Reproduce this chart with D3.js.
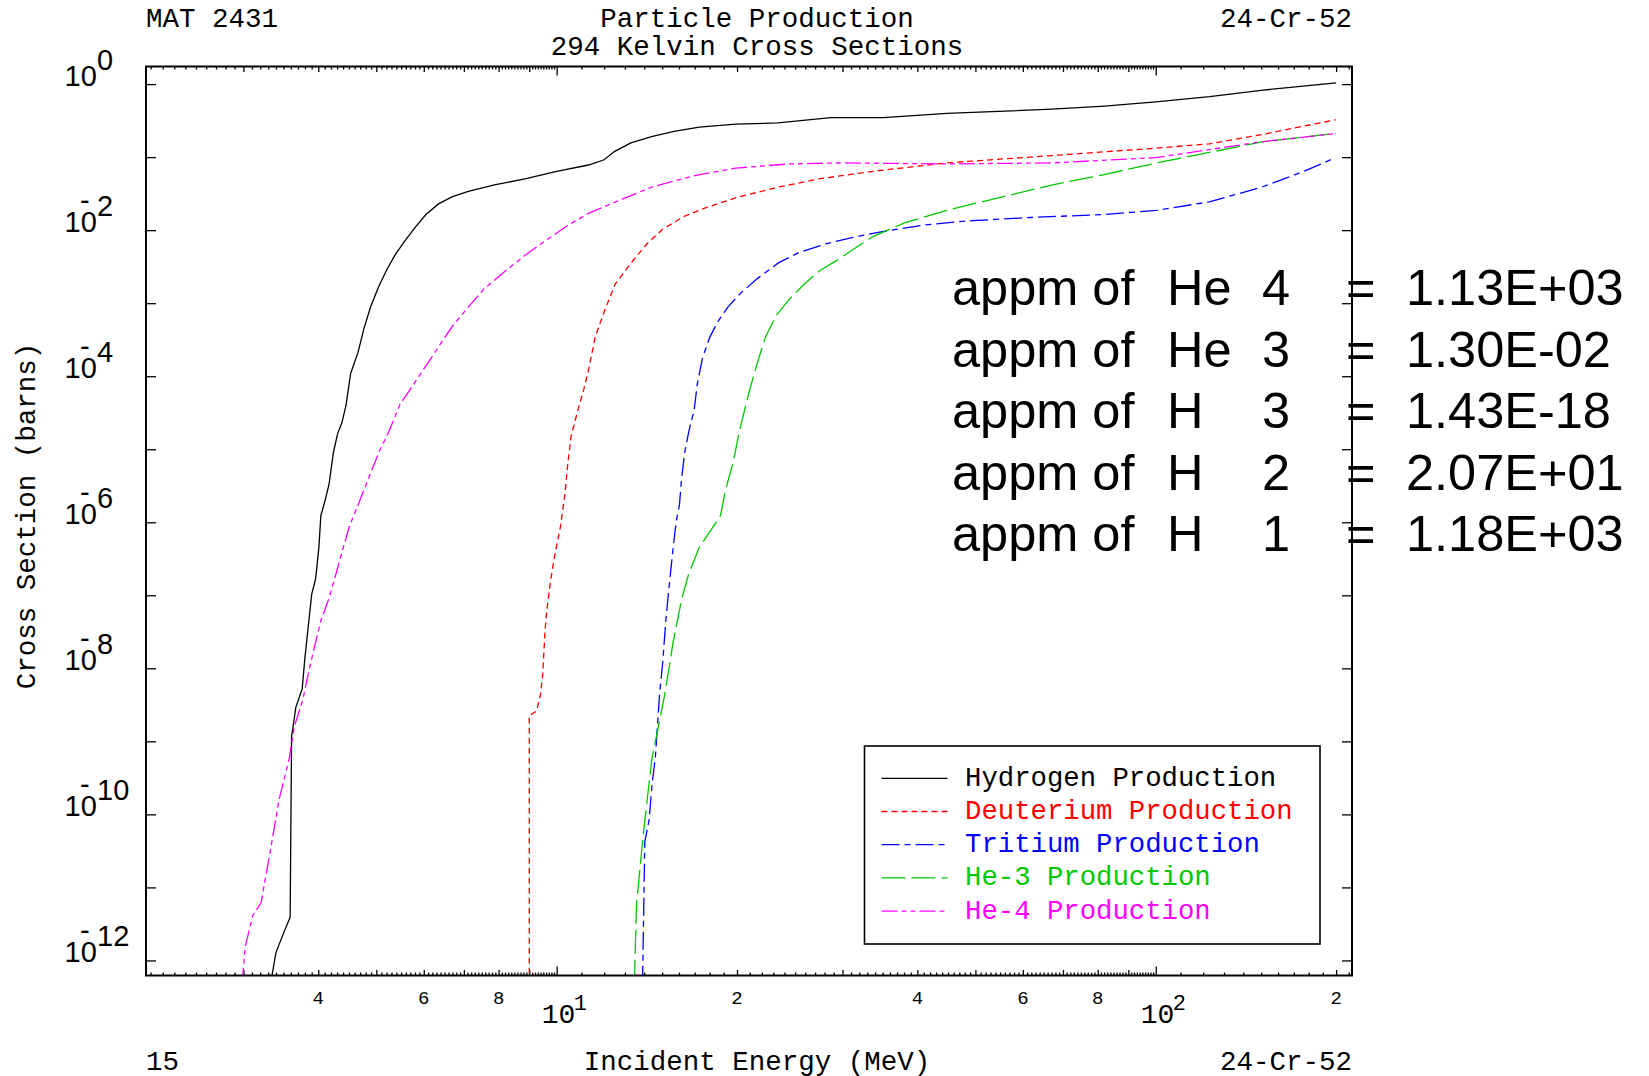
<!DOCTYPE html>
<html>
<head>
<meta charset="utf-8">
<script src="https://cdn.jsdelivr.net/npm/d3@7"></script>
<style>
  html, body { margin: 0; padding: 0; background: #ffffff; }
  svg { display: block; }
</style>
</head>
<body>
<svg id="chart" width="1649" height="1076"></svg>
<script>
// ---- Production cross sections: [incident energy (MeV), cross section (barns)] ----
const hydrogen = [
  [3.33, 4.8e-13], [3.40, 1.29e-12], [3.51, 2.5e-12], [3.59, 3.9e-12], [3.61, 1.16e-9],
  [3.67, 2.95e-9], [3.76, 5.2e-9], [3.80, 1.4e-8], [3.85, 3.8e-8], [3.90, 1.03e-7],
  [3.96, 1.69e-7], [4.01, 4.6e-7], [4.04, 1.24e-6], [4.11, 2.04e-6], [4.17, 3.35e-6],
  [4.24, 9.1e-6], [4.31, 1.65e-5], [4.38, 2.3e-5], [4.45, 4.0e-5], [4.53, 1.09e-4],
  [4.66, 2.12e-4], [4.77, 4.55e-4], [4.89, 8.85e-4], [5.05, 1.72e-3], [5.21, 2.92e-3],
  [5.38, 4.65e-3], [5.58, 7.14e-3], [5.81, 1.10e-2], [6.05, 1.64e-2], [6.35, 2.29e-2],
  [6.70, 2.88e-2], [7.12, 3.40e-2], [7.87, 4.16e-2], [8.89, 5.07e-2], [10.0, 6.40e-2],
  [11.3, 7.80e-2], [12.0, 9.2e-2], [12.5, 0.120], [13.3, 0.157], [14.4, 0.191],
  [15.7, 0.225], [17.3, 0.258], [19.9, 0.284], [23.4, 0.294], [28.7, 0.348],
  [35.1, 0.348], [44.8, 0.397], [67.1, 0.453], [82.1, 0.501], [100, 0.571],
  [123, 0.675], [150, 0.822], [200, 1.04]
];
const deuterium = [
  [9.0, 4.8e-13], [9.0, 2.26e-9], [9.25, 2.58e-9], [9.40, 4.40e-9], [9.48, 8.53e-9],
  [9.56, 3.21e-8], [9.63, 6.25e-8], [9.75, 1.43e-7], [9.91, 3.28e-7], [10.15, 8.87e-7],
  [10.32, 2.40e-6], [10.44, 6.50e-6], [10.57, 1.49e-5], [10.79, 2.90e-5], [11.10, 6.64e-5],
  [11.32, 1.29e-4], [11.60, 3.49e-4], [12.03, 8.0e-4], [12.53, 1.84e-3], [13.31, 3.56e-3],
  [14.14, 6.47e-3], [15.03, 1.03e-2], [16.29, 1.53e-2], [17.66, 2.0e-2], [19.94, 2.79e-2],
  [23.44, 3.89e-2], [27.55, 5.07e-2], [33.72, 6.40e-2], [44.76, 8.34e-2], [67.05, 0.105],
  [100.4, 0.133], [122.9, 0.152], [150.4, 0.204], [199.6, 0.325]
];
const tritium = [
  [13.91, 4.8e-13], [14.03, 4.22e-11], [14.26, 8.18e-11], [14.43, 2.61e-10], [14.61, 6.0e-10],
  [14.73, 1.62e-9], [14.85, 4.40e-9], [15.03, 1.19e-8], [15.21, 4.48e-8], [15.39, 1.21e-7],
  [15.65, 4.57e-7], [15.84, 1.05e-6], [16.03, 1.73e-6], [16.16, 3.95e-6], [16.36, 9.08e-6],
  [16.62, 1.76e-5], [16.96, 3.42e-5], [17.17, 7.83e-5], [17.52, 1.80e-4], [18.03, 3.49e-4],
  [18.62, 5.74e-4], [19.31, 8.85e-4], [20.18, 1.32e-3], [21.62, 2.17e-3], [23.44, 3.56e-3],
  [25.41, 4.97e-3], [28.11, 6.47e-3], [31.10, 7.91e-3], [35.12, 9.64e-3], [41.27, 1.18e-2],
  [48.52, 1.34e-2], [61.84, 1.49e-2], [82.07, 1.64e-2], [100.4, 1.87e-2], [122.9, 2.44e-2],
  [150.4, 3.89e-2], [176.8, 6.40e-2], [199.6, 9.84e-2]
];
const helium3 = [
  [13.48, 4.8e-13], [13.59, 5.75e-12], [13.75, 1.56e-11], [13.91, 4.22e-11], [14.03, 8.18e-11],
  [14.26, 2.61e-10], [14.43, 6.0e-10], [14.73, 1.37e-9], [15.15, 4.40e-9], [15.65, 2.31e-8],
  [16.16, 8.71e-8], [16.62, 2.0e-7], [17.31, 4.57e-7], [18.03, 7.52e-7], [18.77, 1.24e-6],
  [19.15, 2.84e-6], [19.70, 6.50e-6], [20.18, 1.76e-5], [20.59, 3.42e-5], [21.01, 6.64e-5],
  [21.62, 1.52e-4], [22.33, 3.49e-4], [23.25, 6.78e-4], [24.40, 1.11e-3], [25.93, 1.84e-3],
  [27.55, 2.82e-3], [29.27, 3.80e-3], [31.10, 5.31e-3], [33.72, 8.17e-3], [38.07, 1.26e-2],
  [44.76, 1.87e-2], [54.77, 2.79e-2], [67.05, 4.15e-2], [82.07, 5.78e-2], [100.4, 8.34e-2],
  [122.9, 0.116], [150.4, 0.162], [199.6, 0.211]
];
const helium4 = [
  [2.985, 4.8e-13], [3.02, 1.53e-12], [3.11, 4.13e-12], [3.21, 6.15e-12], [3.30, 2.17e-11],
  [3.37, 5.87e-11], [3.44, 1.59e-10], [3.51, 3.08e-10], [3.58, 6.0e-10], [3.65, 1.62e-9],
  [3.77, 3.72e-9], [3.85, 8.53e-9], [3.96, 2.31e-8], [4.04, 4.48e-8], [4.16, 8.71e-8],
  [4.26, 1.69e-7], [4.38, 3.87e-7], [4.51, 8.87e-7], [4.66, 1.73e-6], [4.85, 3.95e-6],
  [5.05, 9.08e-6], [5.25, 1.76e-5], [5.47, 4.04e-5], [5.70, 6.64e-5], [5.93, 1.09e-4],
  [6.18, 1.80e-4], [6.43, 2.96e-4], [6.70, 4.86e-4], [7.12, 8.85e-4], [7.56, 1.56e-3],
  [8.20, 2.74e-3], [8.89, 4.65e-3], [9.63, 7.40e-3], [10.4, 1.14e-2], [11.3, 1.70e-2],
  [12.8, 2.61e-2], [14.4, 3.89e-2], [17.0, 5.60e-2], [19.9, 7.06e-2], [24.4, 8.07e-2],
  [29.9, 8.34e-2], [44.8, 8.07e-2], [67.1, 8.34e-2], [100, 9.84e-2], [150, 0.162],
  [200, 0.211]
];

// ---- Series names, colours and dash styles ----
const seriesNames  = ["Hydrogen Production", "Deuterium Production", "Tritium Production",
                      "He-3 Production", "He-4 Production"];
const seriesColors = ["#000000", "#ff0000", "#0000ff", "#00c800", "#ff00ff"];
const seriesDashes = ["none", "6,4", "18,5,6,5", "24,6", "16,4,5,4,5,4"];
const seriesData   = [hydrogen, deuterium, tritium, helium3, helium4];

// ---- Axis labels ----
const xMinorLabels  = [[4, "4"], [6, "6"], [8, "8"], [20, "2"], [40, "4"], [60, "6"], [80, "8"], [200, "2"]];
const xDecadeLabels = [[10, "1"], [100, "2"]];
const yDecadeLabels = [[1, "0"], [1e-2, "2"], [1e-4, "4"], [1e-6, "6"], [1e-8, "8"], [1e-10, "10"], [1e-12, "12"]];
const yDecadeTicks  = [1, 1e-1, 1e-2, 1e-3, 1e-4, 1e-5, 1e-6, 1e-7, 1e-8, 1e-9, 1e-10, 1e-11, 1e-12];

// ---- Header / footer texts ----
const headerLeft = "MAT 2431";
const headerTitle = ["Particle Production", "294 Kelvin Cross Sections"];
const headerRight = "24-Cr-52";
const footerLeft = "15";
const xTitle = "Incident Energy (MeV)";
const yTitle = "Cross Section (barns)";

// ---- Integrated gas production (appm) ----
const appmNuclide = ["He", "He", "H", "H", "H"];
const appmMass    = ["4", "3", "3", "2", "1"];
const appmValue   = ["1.13E+03", "1.30E-02", "1.43E-18", "2.07E+01", "1.18E+03"];

// ---------------------------------------------------------------------------
const svg = d3.select("#chart");
const mono = "'Courier New', Courier, 'Nimbus Mono PS', FreeMono, 'Liberation Mono', monospace";
const sans = "'Liberation Sans', Arial, sans-serif";

const plot = { left: 146, right: 1352, top: 66.5, bottom: 975.5 };

const x = d3.scaleLog().domain([2.063, 212.6]).range([plot.left, plot.right]);
const y = d3.scaleLog().domain([6.22e-13, 1.742]).range([plot.bottom, plot.top]);

// tick positions of the energy axis: ten steps per unit within each decade
const xMinorTicks = [], xMidTicks = [], xMajorTicks = [10, 100];
[1, 10, 100].forEach(dec => {
  for (let k = 11; k <= 99; k++) {
    const v = dec * k / 10;
    if (v < x.domain()[0] || v > x.domain()[1]) continue;
    if (k % 10 === 0) xMidTicks.push(v);
    else xMinorTicks.push(v);
  }
});

function drawTicks(axisFn, values, size, transform) {
  const g = svg.append("g")
    .attr("transform", transform)
    .call(axisFn.tickValues(values).tickSize(size).tickFormat(""));
  g.select(".domain").remove();
  g.selectAll(".tick line").attr("stroke", "#000").attr("stroke-width", 1.3);
}

// bottom and top energy axis ticks (pointing into the plot)
[[xMinorTicks, 3], [xMidTicks, 5.5], [xMajorTicks, 9]].forEach(([vals, s]) => {
  drawTicks(d3.axisBottom(x), vals, -s, `translate(0,${plot.bottom})`);
  drawTicks(d3.axisTop(x), vals, -s, `translate(0,${plot.top})`);
});
// left and right cross section ticks
drawTicks(d3.axisLeft(y), yDecadeTicks, -10, `translate(${plot.left},0)`);
drawTicks(d3.axisRight(y), yDecadeTicks, -10, `translate(${plot.right},0)`);

// curves
svg.append("clipPath").attr("id", "plot-clip")
  .append("rect")
  .attr("x", plot.left).attr("y", plot.top)
  .attr("width", plot.right - plot.left).attr("height", plot.bottom - plot.top);

const line = d3.line().x(d => x(d[0])).y(d => y(d[1]));
const curves = svg.append("g").attr("clip-path", "url(#plot-clip)");
seriesData.forEach((data, i) => {
  curves.append("path")
    .datum(data)
    .attr("d", line)
    .attr("fill", "none")
    .attr("stroke", seriesColors[i])
    .attr("stroke-width", 1.3)
    .attr("stroke-dasharray", seriesDashes[i]);
});

// frame
svg.append("rect")
  .attr("x", plot.left).attr("y", plot.top)
  .attr("width", plot.right - plot.left).attr("height", plot.bottom - plot.top)
  .attr("fill", "none").attr("stroke", "#000").attr("stroke-width", 2);

// energy axis labels
svg.append("g").selectAll("text")
  .data(xMinorLabels).join("text")
  .attr("x", d => x(d[0])).attr("y", 1004)
  .attr("text-anchor", "middle")
  .attr("font-family", mono).attr("font-size", 19)
  .text(d => d[1]);

xDecadeLabels.forEach(([v, exp]) => {
  const t = svg.append("text").attr("font-family", mono).attr("fill", "#000");
  t.append("tspan").attr("x", x(v) - 15).attr("y", 1023).attr("font-size", 28).text("10");
  t.append("tspan").attr("x", x(v) + 17).attr("y", 1010).attr("font-size", 22).text(exp);
});

// cross section axis labels: 10 with a raised exponent, the minus tucked over the zero
yDecadeLabels.forEach(([v, exp]) => {
  const base = y(v) + 2;
  const sup = base - 16;
  const t = svg.append("text").attr("font-family", sans).attr("font-size", 29).attr("fill", "#000");
  t.append("tspan").attr("x", 64.5).attr("y", base).text("10");
  if (v < 1) t.append("tspan").attr("x", 80).attr("y", sup - 6).text("-");
  t.append("tspan").attr("x", 97).attr("y", sup).text(exp);
});

// header
svg.append("text").attr("x", plot.left).attr("y", 26.5)
  .attr("font-family", mono).attr("font-size", 27.5).text(headerLeft);
svg.append("text").attr("x", plot.right).attr("y", 26.5).attr("text-anchor", "end")
  .attr("font-family", mono).attr("font-size", 27.5).text(headerRight);
headerTitle.forEach((s, i) => {
  svg.append("text").attr("x", 757).attr("y", 26.5 + i * 28.5).attr("text-anchor", "middle")
    .attr("font-family", mono).attr("font-size", 27.5).text(s);
});

// footer
svg.append("text").attr("x", plot.left).attr("y", 1069.5)
  .attr("font-family", mono).attr("font-size", 27.5).text(footerLeft);
svg.append("text").attr("x", 757).attr("y", 1069.5).attr("text-anchor", "middle")
  .attr("font-family", mono).attr("font-size", 27.5).text(xTitle);
svg.append("text").attr("x", plot.right).attr("y", 1069.5).attr("text-anchor", "end")
  .attr("font-family", mono).attr("font-size", 27.5).text(headerRight);

// y axis title
svg.append("text")
  .attr("transform", "translate(35,516) rotate(-90)")
  .attr("text-anchor", "middle")
  .attr("font-family", mono).attr("font-size", 27.5).text(yTitle);

// legend
const legend = svg.append("g");
legend.append("rect")
  .attr("x", 864.5).attr("y", 746).attr("width", 455.5).attr("height", 198)
  .attr("fill", "#fff").attr("stroke", "#000").attr("stroke-width", 1.6);
seriesNames.forEach((name, i) => {
  const ly = 778.3 + i * 33.2;
  legend.append("line")
    .attr("x1", 881.5).attr("x2", 947.5).attr("y1", ly).attr("y2", ly)
    .attr("stroke", seriesColors[i]).attr("stroke-width", 1.3)
    .attr("stroke-dasharray", seriesDashes[i]);
  legend.append("text")
    .attr("x", 965).attr("y", ly + 7.5)
    .attr("font-family", mono).attr("font-size", 27.3)
    .attr("fill", seriesColors[i]).text(name);
});

// appm summary block
const appm = svg.append("g").attr("font-family", sans).attr("font-size", 50.5).attr("fill", "#000");
appmValue.forEach((val, i) => {
  const by = 305 + i * 61.5;
  const t = appm.append("text").attr("y", by);
  t.append("tspan").attr("x", 952).text("appm of");
  t.append("tspan").attr("x", 1167).text(appmNuclide[i]);
  t.append("tspan").attr("x", 1262).text(appmMass[i]);
  t.append("tspan").attr("x", 1346).text("=");
  t.append("tspan").attr("x", 1406).text(val);
});
</script>
</body>
</html>
